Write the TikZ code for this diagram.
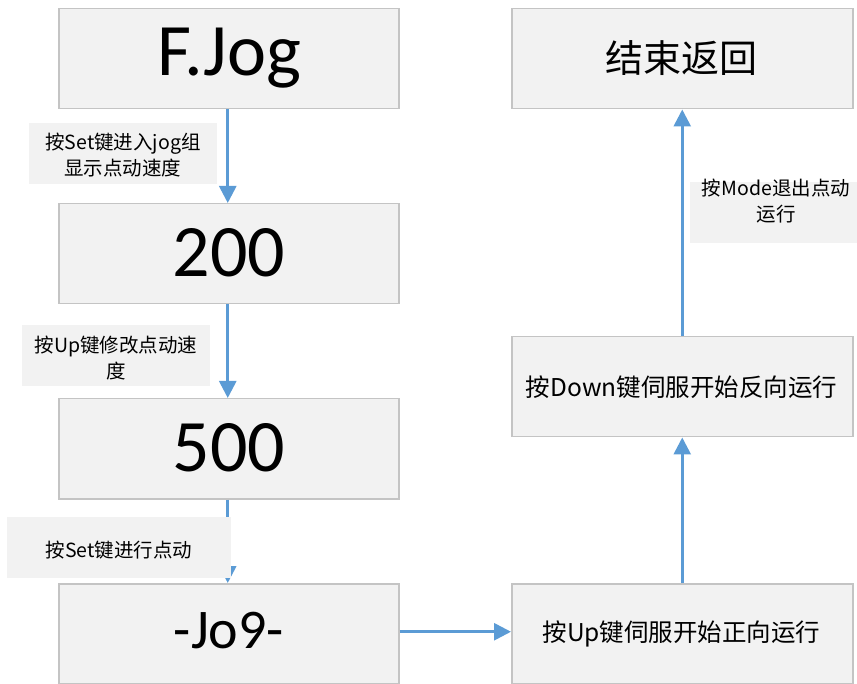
\documentclass[tikz,border=0pt]{standalone}
\usepackage{fontspec}
\setmainfont{Noto Sans CJK SC}
\newfontfamily\calfont{Carlito}
\usetikzlibrary{arrows.meta}
\definecolor{boxfill}{HTML}{F2F2F2}
\definecolor{boxline}{HTML}{C4C4C4}
\definecolor{arrowblue}{HTML}{5B9BD5}
\tikzset{
  box/.style={draw=boxline, line width=1.5pt, fill=boxfill, minimum width=340pt, minimum height=100pt, inner sep=0pt, anchor=north west},
  lblfill/.style={fill=boxfill},
  lbltext/.style={align=center, inner sep=0pt, font=\fontsize{19.5}{26}\selectfont},
  flow/.style={draw=arrowblue, line width=2.7pt, -{Triangle[width=17pt,length=17pt]}},
}
\begin{document}
\begin{tikzpicture}[x=1pt,y=-1pt]
\useasboundingbox (0,0) rectangle (857,684);
% left column
\node[box] (fjog) at (58,8) {};
\node[font=\calfont\fontsize{74}{74}\selectfont] (fjogt) at (229,58) {F.Jog};
\node[box] (b200) at (58,203) {};
\node[font=\calfont\fontsize{74}{74}\selectfont] (b200t) at (229,253) {200};
\node[box] (b500) at (58,398) {};
\node[font=\calfont\fontsize{74}{74}\selectfont] (b500t) at (229,448) {500};
\node[box] (jog) at (58,583) {};
\node[font=\calfont\fontsize{56}{56}\selectfont] (jogt) at (229,631) {-Jo9-};
% right column
\node[box, minimum width=341pt] (end) at (511,8) {};
\node[font=\fontsize{38}{38}\selectfont] (endt) at (681.5,58) {结束返回};
\node[box, minimum width=341pt] (down) at (511,336) {};
\node[font=\fontsize{24.5}{24.5}\selectfont] (downt) at (681.5,387) {按Down键伺服开始反向运行};
\node[box, minimum width=341pt] (up) at (511,583) {};
\node[font=\fontsize{24.5}{24.5}\selectfont] (upt) at (681.5,634) {按Up键伺服开始正向运行};
% connectors
\draw[flow] ([xshift=-1pt]fjog.south) -- ([xshift=-1pt]b200.north);
\draw[flow] ([xshift=-1pt]b200.south) -- ([xshift=-1pt]b500.north);
\draw[flow] ([xshift=-1pt]b500.south) -- ([xshift=-1pt]jog.north);
\draw[flow] ([yshift=2pt]jog.east) -- ([yshift=2pt]up.west);
\draw[flow] (up.north) -- (down.south);
\draw[flow] (down.north) -- (end.south);
% labels
\fill[lblfill] (29,123) rectangle (217,184);
\node[lbltext] (l1) at (123,155.5) {按Set键进入jog组\\显示点动速度};
\fill[lblfill] (22,325) rectangle (210,386);
\node[lbltext] (l2) at (116,358) {按Up键修改点动速\\度};
\fill[lblfill] (7,517) rectangle (231,578);
\node[lbltext] (l3) at (119,550) {按Set键进行点动};
\fill[lblfill] (690,182) rectangle (857,243);
\node[lbltext] (l4) at (776,201) {按Mode退出点动\\运行};
\end{tikzpicture}
\end{document}
